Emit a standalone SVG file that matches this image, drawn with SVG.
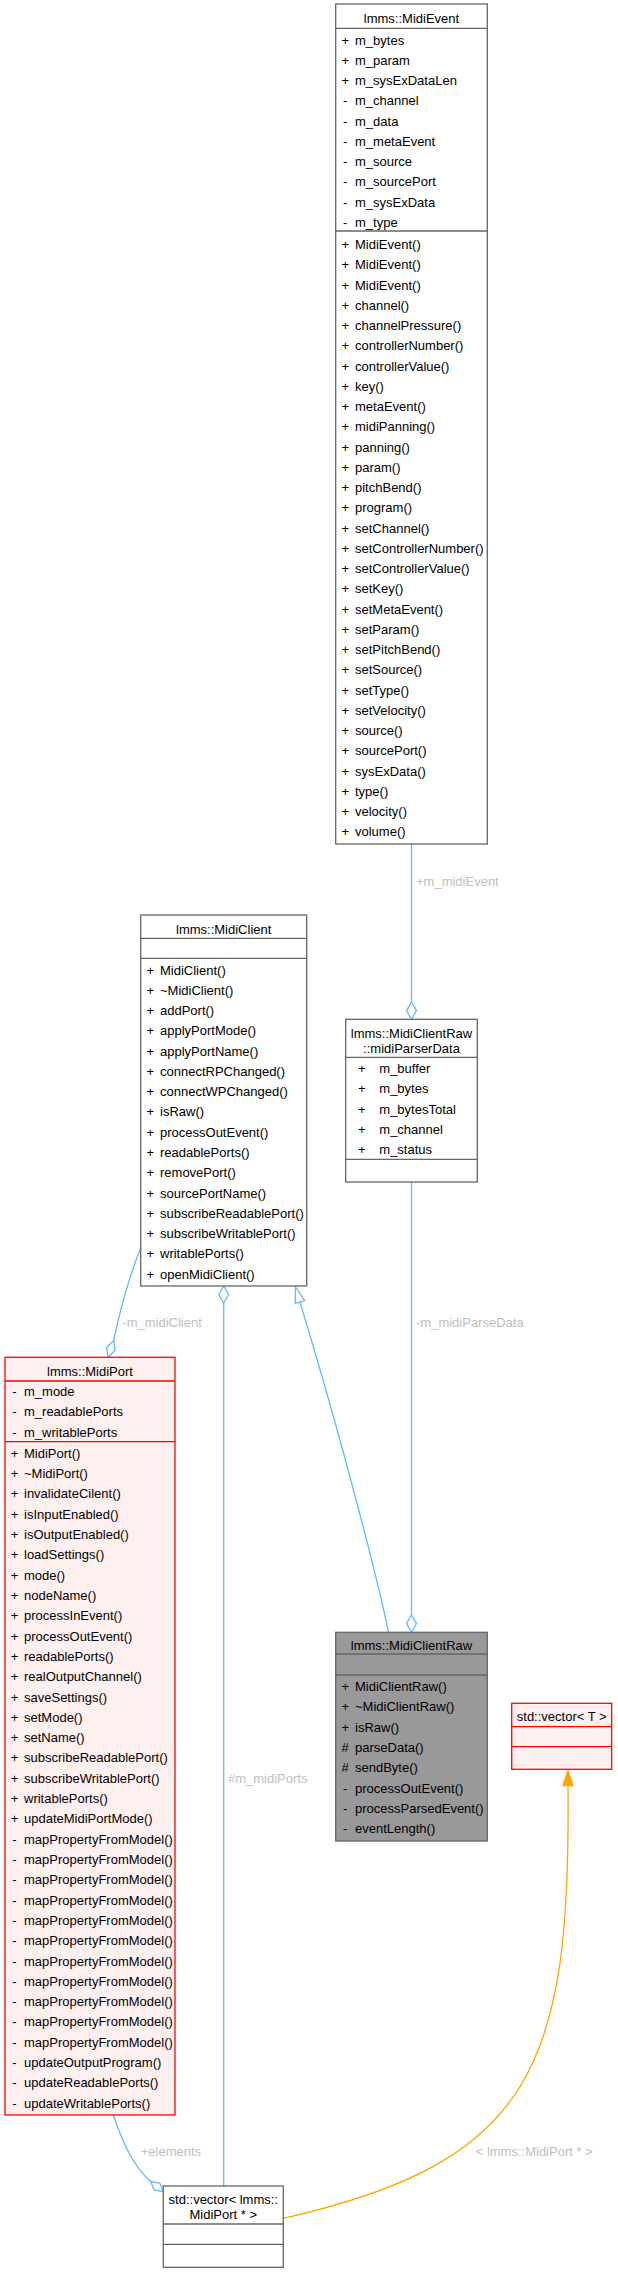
<svg xmlns="http://www.w3.org/2000/svg" width="618" height="2273" viewBox="0 0 618 2273">
<style>
text{font-family:"Liberation Sans",Arial,Helvetica,sans-serif;font-size:13px;fill:#000}
.c{text-anchor:middle}
.box{fill:#fff;stroke:#666;stroke-width:1.3}
.cur{fill:#999;stroke:#666;stroke-width:1.3}
.red{fill:#fff0f0;stroke:#f00;stroke-width:1.3}
.sepg{stroke:#666;stroke-width:1.3}
.sepr{stroke:#f00;stroke-width:1.3}
.e{fill:none;stroke:#63b8ff;stroke-width:1.3}
.ed{fill:#fff;stroke:#63b8ff;stroke-width:1.3}
.o{fill:none;stroke:#ffa500;stroke-width:1.3}
.oa{fill:#ffa500;stroke:#ffa500;stroke-width:1.3}
.lbl{fill:#bebebe}
</style>
<rect width="618" height="2273" fill="#fff"/>
<g id="connectors">
<line class="e" x1="411.5" y1="844" x2="411.5" y2="1002"/>
<polygon class="ed" points="411.5,1002 416.5,1010.6 411.5,1019.3 406.5,1010.6"/>
<text class="lbl" x="416" y="885.5">+m_midiEvent</text>
<line class="e" x1="411.5" y1="1182" x2="411.5" y2="1615"/>
<polygon class="ed" points="411.5,1615 416.5,1623.6 411.5,1632.3 406.5,1623.6"/>
<text class="lbl" x="416" y="1327.2">-m_midiParseData</text>
<path class="e" d="M388.5,1632.3 C380,1590 345,1450 300,1302"/>
<polygon class="ed" points="295.5,1287 304.8,1300.6 295.2,1303.4"/>
<polygon class="ed" points="223.7,1286 228.7,1294.5 223.7,1303 218.7,1294.5"/>
<line class="e" x1="223.7" y1="1303" x2="223.7" y2="2186"/>
<text class="lbl" x="228" y="1783">#m_midiPorts</text>
<path class="e" d="M140.7,1248 C130,1275 120,1310 113.7,1340.5"/>
<polygon class="ed" points="113.7,1340.5 115.15,1350.25 108,1357.3 106.55,1347.55"/>
<text class="lbl" x="122.3" y="1327.2">-m_midiClient</text>
<path class="e" d="M113.3,2115 C122,2140 132,2165 150.7,2181.5"/>
<polygon class="ed" points="150.7,2181.5 159.8,2183 163.3,2191.7 154.2,2190"/>
<text class="lbl" x="140.7" y="2156.2">+elements</text>
<path class="o" d="M283.3,2218.3 C533,2162 571,2066 568,1785.5"/>
<polygon class="oa" points="568,1770.5 573,1785.5 563,1785.5"/>
<text class="lbl" x="475.7" y="2156.2">&lt; lmms::MidiPort * &gt;</text>
</g>
<g id="MidiEvent">
<rect class="box" x="335.7" y="4" width="151.6" height="840"/>
<line class="sepg" x1="335.7" y1="28.3" x2="487.3" y2="28.3"/>
<line class="sepg" x1="335.7" y1="231" x2="487.3" y2="231"/>
<text class="c" x="411.5" y="23">lmms::MidiEvent</text>
<text class="c"><tspan x="345.2" y="44.5">+</tspan><tspan x="345.2" dy="20.28">+</tspan><tspan x="345.2" dy="20.28">+</tspan><tspan x="345.2" dy="20.28">-</tspan><tspan x="345.2" dy="20.28">-</tspan><tspan x="345.2" dy="20.28">-</tspan><tspan x="345.2" dy="20.28">-</tspan><tspan x="345.2" dy="20.28">-</tspan><tspan x="345.2" dy="20.28">-</tspan><tspan x="345.2" dy="20.28">-</tspan></text>
<text><tspan x="355" y="44.5">m_bytes</tspan><tspan x="355" dy="20.28">m_param</tspan><tspan x="355" dy="20.28">m_sysExDataLen</tspan><tspan x="355" dy="20.28">m_channel</tspan><tspan x="355" dy="20.28">m_data</tspan><tspan x="355" dy="20.28">m_metaEvent</tspan><tspan x="355" dy="20.28">m_source</tspan><tspan x="355" dy="20.28">m_sourcePort</tspan><tspan x="355" dy="20.28">m_sysExData</tspan><tspan x="355" dy="20.28">m_type</tspan></text>
<text class="c"><tspan x="345.2" y="249">+</tspan><tspan x="345.2" dy="20.25">+</tspan><tspan x="345.2" dy="20.25">+</tspan><tspan x="345.2" dy="20.25">+</tspan><tspan x="345.2" dy="20.25">+</tspan><tspan x="345.2" dy="20.25">+</tspan><tspan x="345.2" dy="20.25">+</tspan><tspan x="345.2" dy="20.25">+</tspan><tspan x="345.2" dy="20.25">+</tspan><tspan x="345.2" dy="20.25">+</tspan><tspan x="345.2" dy="20.25">+</tspan><tspan x="345.2" dy="20.25">+</tspan><tspan x="345.2" dy="20.25">+</tspan><tspan x="345.2" dy="20.25">+</tspan><tspan x="345.2" dy="20.25">+</tspan><tspan x="345.2" dy="20.25">+</tspan><tspan x="345.2" dy="20.25">+</tspan><tspan x="345.2" dy="20.25">+</tspan><tspan x="345.2" dy="20.25">+</tspan><tspan x="345.2" dy="20.25">+</tspan><tspan x="345.2" dy="20.25">+</tspan><tspan x="345.2" dy="20.25">+</tspan><tspan x="345.2" dy="20.25">+</tspan><tspan x="345.2" dy="20.25">+</tspan><tspan x="345.2" dy="20.25">+</tspan><tspan x="345.2" dy="20.25">+</tspan><tspan x="345.2" dy="20.25">+</tspan><tspan x="345.2" dy="20.25">+</tspan><tspan x="345.2" dy="20.25">+</tspan><tspan x="345.2" dy="20.25">+</tspan></text>
<text><tspan x="355" y="249">MidiEvent()</tspan><tspan x="355" dy="20.25">MidiEvent()</tspan><tspan x="355" dy="20.25">MidiEvent()</tspan><tspan x="355" dy="20.25">channel()</tspan><tspan x="355" dy="20.25">channelPressure()</tspan><tspan x="355" dy="20.25">controllerNumber()</tspan><tspan x="355" dy="20.25">controllerValue()</tspan><tspan x="355" dy="20.25">key()</tspan><tspan x="355" dy="20.25">metaEvent()</tspan><tspan x="355" dy="20.25">midiPanning()</tspan><tspan x="355" dy="20.25">panning()</tspan><tspan x="355" dy="20.25">param()</tspan><tspan x="355" dy="20.25">pitchBend()</tspan><tspan x="355" dy="20.25">program()</tspan><tspan x="355" dy="20.25">setChannel()</tspan><tspan x="355" dy="20.25">setControllerNumber()</tspan><tspan x="355" dy="20.25">setControllerValue()</tspan><tspan x="355" dy="20.25">setKey()</tspan><tspan x="355" dy="20.25">setMetaEvent()</tspan><tspan x="355" dy="20.25">setParam()</tspan><tspan x="355" dy="20.25">setPitchBend()</tspan><tspan x="355" dy="20.25">setSource()</tspan><tspan x="355" dy="20.25">setType()</tspan><tspan x="355" dy="20.25">setVelocity()</tspan><tspan x="355" dy="20.25">source()</tspan><tspan x="355" dy="20.25">sourcePort()</tspan><tspan x="355" dy="20.25">sysExData()</tspan><tspan x="355" dy="20.25">type()</tspan><tspan x="355" dy="20.25">velocity()</tspan><tspan x="355" dy="20.25">volume()</tspan></text>
</g>
<g id="MidiClient">
<rect class="box" x="140.7" y="915" width="166" height="371"/>
<line class="sepg" x1="140.7" y1="938.3" x2="306.7" y2="938.3"/>
<line class="sepg" x1="140.7" y1="958.3" x2="306.7" y2="958.3"/>
<text class="c" x="223.7" y="933.8">lmms::MidiClient</text>
<text class="c"><tspan x="150.2" y="974.5">+</tspan><tspan x="150.2" dy="20.28">+</tspan><tspan x="150.2" dy="20.28">+</tspan><tspan x="150.2" dy="20.28">+</tspan><tspan x="150.2" dy="20.28">+</tspan><tspan x="150.2" dy="20.28">+</tspan><tspan x="150.2" dy="20.28">+</tspan><tspan x="150.2" dy="20.28">+</tspan><tspan x="150.2" dy="20.28">+</tspan><tspan x="150.2" dy="20.28">+</tspan><tspan x="150.2" dy="20.28">+</tspan><tspan x="150.2" dy="20.28">+</tspan><tspan x="150.2" dy="20.28">+</tspan><tspan x="150.2" dy="20.28">+</tspan><tspan x="150.2" dy="20.28">+</tspan><tspan x="150.2" dy="20.28">+</tspan></text>
<text><tspan x="160" y="974.5">MidiClient()</tspan><tspan x="160" dy="20.28">~MidiClient()</tspan><tspan x="160" dy="20.28">addPort()</tspan><tspan x="160" dy="20.28">applyPortMode()</tspan><tspan x="160" dy="20.28">applyPortName()</tspan><tspan x="160" dy="20.28">connectRPChanged()</tspan><tspan x="160" dy="20.28">connectWPChanged()</tspan><tspan x="160" dy="20.28">isRaw()</tspan><tspan x="160" dy="20.28">processOutEvent()</tspan><tspan x="160" dy="20.28">readablePorts()</tspan><tspan x="160" dy="20.28">removePort()</tspan><tspan x="160" dy="20.28">sourcePortName()</tspan><tspan x="160" dy="20.28">subscribeReadablePort()</tspan><tspan x="160" dy="20.28">subscribeWritablePort()</tspan><tspan x="160" dy="20.28">writablePorts()</tspan><tspan x="160" dy="20.28">openMidiClient()</tspan></text>
</g>
<g id="midiParserData">
<rect class="box" x="345.7" y="1019.3" width="131.6" height="162.7"/>
<line class="sepg" x1="345.7" y1="1057.3" x2="477.3" y2="1057.3"/>
<line class="sepg" x1="345.7" y1="1159.3" x2="477.3" y2="1159.3"/>
<text class="c" x="411.5" y="1037.8">lmms::MidiClientRaw</text>
<text class="c" x="411.5" y="1052.8">::midiParserData</text>
<text class="c"><tspan x="361.7" y="1072.8">+</tspan><tspan x="361.7" dy="20.4">+</tspan><tspan x="361.7" dy="20.4">+</tspan><tspan x="361.7" dy="20.4">+</tspan><tspan x="361.7" dy="20.4">+</tspan></text>
<text><tspan x="379.3" y="1072.8">m_buffer</tspan><tspan x="379.3" dy="20.4">m_bytes</tspan><tspan x="379.3" dy="20.4">m_bytesTotal</tspan><tspan x="379.3" dy="20.4">m_channel</tspan><tspan x="379.3" dy="20.4">m_status</tspan></text>
</g>
<g id="MidiClientRaw">
<rect class="cur" x="335.7" y="1632.3" width="151.6" height="208.7"/>
<line class="sepg" x1="335.7" y1="1654" x2="487.3" y2="1654"/>
<line class="sepg" x1="335.7" y1="1675" x2="487.3" y2="1675"/>
<text class="c" x="411.5" y="1650.2">lmms::MidiClientRaw</text>
<text class="c"><tspan x="345.2" y="1691.2">+</tspan><tspan x="345.2" dy="20.28">+</tspan><tspan x="345.2" dy="20.28">+</tspan><tspan x="345.2" dy="20.28">#</tspan><tspan x="345.2" dy="20.28">#</tspan><tspan x="345.2" dy="20.28">-</tspan><tspan x="345.2" dy="20.28">-</tspan><tspan x="345.2" dy="20.28">-</tspan></text>
<text><tspan x="355" y="1691.2">MidiClientRaw()</tspan><tspan x="355" dy="20.28">~MidiClientRaw()</tspan><tspan x="355" dy="20.28">isRaw()</tspan><tspan x="355" dy="20.28">parseData()</tspan><tspan x="355" dy="20.28">sendByte()</tspan><tspan x="355" dy="20.28">processOutEvent()</tspan><tspan x="355" dy="20.28">processParsedEvent()</tspan><tspan x="355" dy="20.28">eventLength()</tspan></text>
</g>
<g id="MidiPort">
<rect class="red" x="5" y="1357.3" width="170" height="757.7"/>
<line class="sepr" x1="5" y1="1381" x2="175" y2="1381"/>
<line class="sepr" x1="5" y1="1441.7" x2="175" y2="1441.7"/>
<text class="c" x="90" y="1376.2">lmms::MidiPort</text>
<text class="c"><tspan x="14.5" y="1396.2">-</tspan><tspan x="14.5" dy="20.2">-</tspan><tspan x="14.5" dy="20.2">-</tspan></text>
<text><tspan x="24" y="1396.2">m_mode</tspan><tspan x="24" dy="20.2">m_readablePorts</tspan><tspan x="24" dy="20.2">m_writablePorts</tspan></text>
<text class="c"><tspan x="14.5" y="1457.8">+</tspan><tspan x="14.5" dy="20.31">+</tspan><tspan x="14.5" dy="20.31">+</tspan><tspan x="14.5" dy="20.31">+</tspan><tspan x="14.5" dy="20.31">+</tspan><tspan x="14.5" dy="20.31">+</tspan><tspan x="14.5" dy="20.31">+</tspan><tspan x="14.5" dy="20.31">+</tspan><tspan x="14.5" dy="20.31">+</tspan><tspan x="14.5" dy="20.31">+</tspan><tspan x="14.5" dy="20.31">+</tspan><tspan x="14.5" dy="20.31">+</tspan><tspan x="14.5" dy="20.31">+</tspan><tspan x="14.5" dy="20.31">+</tspan><tspan x="14.5" dy="20.31">+</tspan><tspan x="14.5" dy="20.31">+</tspan><tspan x="14.5" dy="20.31">+</tspan><tspan x="14.5" dy="20.31">+</tspan><tspan x="14.5" dy="20.31">+</tspan><tspan x="14.5" dy="20.31">-</tspan><tspan x="14.5" dy="20.31">-</tspan><tspan x="14.5" dy="20.31">-</tspan><tspan x="14.5" dy="20.31">-</tspan><tspan x="14.5" dy="20.31">-</tspan><tspan x="14.5" dy="20.31">-</tspan><tspan x="14.5" dy="20.31">-</tspan><tspan x="14.5" dy="20.31">-</tspan><tspan x="14.5" dy="20.31">-</tspan><tspan x="14.5" dy="20.31">-</tspan><tspan x="14.5" dy="20.31">-</tspan><tspan x="14.5" dy="20.31">-</tspan><tspan x="14.5" dy="20.31">-</tspan><tspan x="14.5" dy="20.31">-</tspan></text>
<text><tspan x="24" y="1457.8">MidiPort()</tspan><tspan x="24" dy="20.31">~MidiPort()</tspan><tspan x="24" dy="20.31">invalidateCilent()</tspan><tspan x="24" dy="20.31">isInputEnabled()</tspan><tspan x="24" dy="20.31">isOutputEnabled()</tspan><tspan x="24" dy="20.31">loadSettings()</tspan><tspan x="24" dy="20.31">mode()</tspan><tspan x="24" dy="20.31">nodeName()</tspan><tspan x="24" dy="20.31">processInEvent()</tspan><tspan x="24" dy="20.31">processOutEvent()</tspan><tspan x="24" dy="20.31">readablePorts()</tspan><tspan x="24" dy="20.31">realOutputChannel()</tspan><tspan x="24" dy="20.31">saveSettings()</tspan><tspan x="24" dy="20.31">setMode()</tspan><tspan x="24" dy="20.31">setName()</tspan><tspan x="24" dy="20.31">subscribeReadablePort()</tspan><tspan x="24" dy="20.31">subscribeWritablePort()</tspan><tspan x="24" dy="20.31">writablePorts()</tspan><tspan x="24" dy="20.31">updateMidiPortMode()</tspan><tspan x="24" dy="20.31">mapPropertyFromModel()</tspan><tspan x="24" dy="20.31">mapPropertyFromModel()</tspan><tspan x="24" dy="20.31">mapPropertyFromModel()</tspan><tspan x="24" dy="20.31">mapPropertyFromModel()</tspan><tspan x="24" dy="20.31">mapPropertyFromModel()</tspan><tspan x="24" dy="20.31">mapPropertyFromModel()</tspan><tspan x="24" dy="20.31">mapPropertyFromModel()</tspan><tspan x="24" dy="20.31">mapPropertyFromModel()</tspan><tspan x="24" dy="20.31">mapPropertyFromModel()</tspan><tspan x="24" dy="20.31">mapPropertyFromModel()</tspan><tspan x="24" dy="20.31">mapPropertyFromModel()</tspan><tspan x="24" dy="20.31">updateOutputProgram()</tspan><tspan x="24" dy="20.31">updateReadablePorts()</tspan><tspan x="24" dy="20.31">updateWritablePorts()</tspan></text>
</g>
<g id="vectorMidiPort">
<rect class="box" x="163.3" y="2186" width="120" height="81.3"/>
<line class="sepg" x1="163.3" y1="2224" x2="283.3" y2="2224"/>
<line class="sepg" x1="163.3" y1="2244.3" x2="283.3" y2="2244.3"/>
<text class="c" x="223.3" y="2203.8">std::vector&lt; lmms::</text>
<text class="c" x="223.3" y="2218.8">MidiPort * &gt;</text>
</g>
<g id="vectorT">
<rect class="red" x="511.7" y="1703.3" width="100" height="66"/>
<line class="sepr" x1="511.7" y1="1726.7" x2="611.7" y2="1726.7"/>
<line class="sepr" x1="511.7" y1="1746.7" x2="611.7" y2="1746.7"/>
<text class="c" x="561.7" y="1721.2">std::vector&lt; T &gt;</text>
</g>
</svg>
